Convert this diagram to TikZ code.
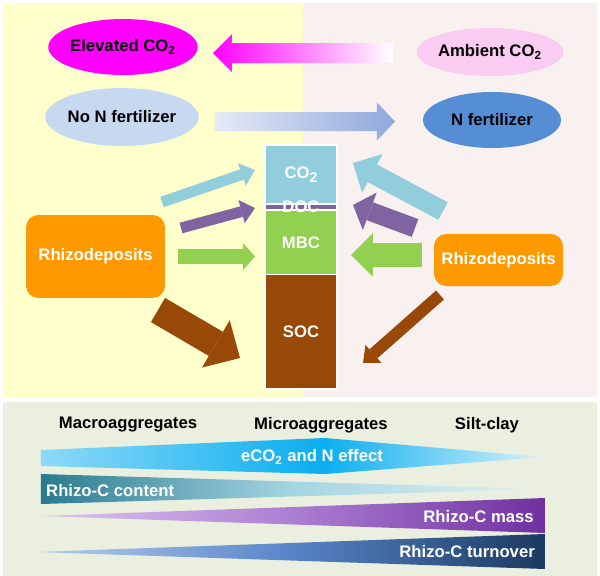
\documentclass[tikz,border=0pt]{standalone}
\usepackage{fontspec}
\setmainfont{Liberation Sans}
\usetikzlibrary{shapes.geometric,arrows.meta}

\definecolor{bgyellow}{HTML}{FFFFCC}
\definecolor{bgpink}{HTML}{F9F0F0}
\definecolor{bggreen}{HTML}{EBEFDF}
\definecolor{elevcol}{HTML}{FF00FF}
\definecolor{ambcol}{HTML}{FACCF2}
\definecolor{nonfcol}{HTML}{C6D9F1}
\definecolor{nfcol}{HTML}{558ED5}
\definecolor{rhizocol}{HTML}{FF9900}
\definecolor{co2col}{HTML}{92CDDC}
\definecolor{doccol}{HTML}{8064A2}
\definecolor{mbccol}{HTML}{92D050}
\definecolor{soccol}{HTML}{984807}
\definecolor{nfarrL}{HTML}{E6EAF6}
\definecolor{nfarrR}{HTML}{8FA8DC}
\definecolor{effL}{HTML}{8DD9F8}
\definecolor{effM}{HTML}{0AAEEF}
\definecolor{effR}{HTML}{D6F2FD}
\definecolor{cntL}{HTML}{2B7B8F}
\definecolor{cntM}{HTML}{A4D5E3}
\definecolor{cntR}{HTML}{E2F1F3}
\definecolor{masL}{HTML}{DCC6EF}
\definecolor{masM}{HTML}{AC7ED3}
\definecolor{masR}{HTML}{7030A0}
\definecolor{turL}{HTML}{B5CEF0}
\definecolor{turM}{HTML}{5884C8}
\definecolor{turR}{HTML}{1B3A62}

\pgfdeclarehorizontalshading{effectshade}{100bp}{color(0bp)=(effL); color(25bp)=(effL); color(53bp)=(effM); color(75bp)=(effR); color(100bp)=(effR)}

\tikzset{
  every node/.style={font=\bfseries\fontsize{9.5}{11}\selectfont},
  treat/.style={ellipse, inner sep=0pt, minimum width=2.76cm, minimum height=1.08cm},
  rhizo/.style={rectangle, rounded corners=7pt, fill=rhizocol, text=white, inner sep=0pt},
  pool/.style={rectangle, draw=white, line width=1pt, minimum width=1.44cm, inner sep=0pt, text=white},
  flow/.style n args={4}{draw=#1, line width=#2, -{Triangle[width=#3, length=#4, line width=0pt]}},
}

\begin{document}
\begin{tikzpicture}[x=0.02cm, y=-0.02cm]
  \useasboundingbox (0,0) rectangle (600,576);
  % panels
  \fill[bgyellow] (3,3) rectangle (303,397);
  \fill[bgpink] (303,3) rectangle (597,397);
  \fill[bggreen] (3,402) rectangle (597,576);

  % treatments
  \node[treat, fill=elevcol, minimum height=1.12cm] (elev) at (123,47) {Elevated CO\textsubscript{2}};
  \node[treat, fill=ambcol, minimum height=0.96cm] (amb) at (490,52) {Ambient CO\textsubscript{2}};
  \node[treat, fill=nonfcol, minimum height=1.16cm] (noN) at (122,117) {No N fertilizer};
  \node[treat, fill=nfcol, minimum height=1.12cm] (Nfert) at (492,120) {N fertilizer};

  \coordinate (elevtip) at (213,53);
  \coordinate (nftip) at (395,121.5);
  \shade[left color=elevcol, right color=white]
    (elevtip) -- ++(19,-19) -- ++(0,9) -- ++(161,0) -- ++(0,20) -- ++(-161,0) -- ++(0,9) -- cycle;
  \shade[left color=nfarrL, right color=nfarrR]
    (nftip) -- ++(-18,-19) -- ++(0,9.5) -- ++(-162,0) -- ++(0,19) -- ++(162,0) -- ++(0,9.5) -- cycle;

  % rhizodeposits
  \node[rhizo, minimum width=2.78cm, minimum height=1.66cm] (rhizoL) at (95.5,256.5) {Rhizodeposits};
  \node[rhizo, minimum width=2.58cm, minimum height=1.04cm] (rhizoR) at (498.5,260) {Rhizodeposits};

  % carbon pools
  \node[pool, fill=co2col, minimum height=1.18cm] (co2) at (301,174.5) {CO\raisebox{-0.45ex}{\fontsize{8}{8}\selectfont 2}};
  \node[pool, fill=doccol, minimum height=0.12cm] (doc) at (301,207) {};
  \node[pool, fill=mbccol, minimum height=1.29cm] (mbc) at (301,242.25) {MBC};
  \node[pool, fill=soccol, minimum height=2.29cm] (soc) at (301,331.75) {SOC};
  \node[text=white] (doclbl) at (doc) {DOC};

  % flows from the left
  \coordinate (l1) at (162,202);  \coordinate (l1to) at (255,170);
  \coordinate (l2) at (181,228);  \coordinate (l2to) at (255,208);
  \coordinate (l3) at (178,256.5);\coordinate (l3to) at (255,256.5);
  \coordinate (l4) at (158,310);  \coordinate (l4to) at (240,358);
  \draw[flow={co2col}{6.2pt}{13.6pt}{7.9pt}] (l1) -- (l1to);
  \draw[flow={doccol}{6.2pt}{13.6pt}{7.9pt}] (l2) -- (l2to);
  \draw[flow={mbccol}{8.5pt}{15.3pt}{6.8pt}] (l3) -- (l3to);
  \draw[flow={soccol}{15.9pt}{31.2pt}{15.9pt}] (l4) -- (l4to);

  % flows from the right
  \coordinate (r1) at (443,211);  \coordinate (r1to) at (353,163);
  \coordinate (r2) at (415,228);  \coordinate (r2to) at (353,205);
  \coordinate (r3) at (422,255);  \coordinate (r3to) at (351,255);
  \coordinate (r4) at (440,295);  \coordinate (r4to) at (363,363);
  \draw[flow={co2col}{11.3pt}{24.9pt}{12.5pt}] (r1) -- (r1to);
  \draw[flow={doccol}{10.8pt}{22.7pt}{10.2pt}] (r2) -- (r2to);
  \draw[flow={mbccol}{13.6pt}{24.9pt}{12.5pt}] (r3) -- (r3to);
  \draw[flow={soccol}{6.8pt}{13.6pt}{7.9pt}] (r4) -- (r4to);

  % aggregate fractions
  \node (macro) at (128,425) {Macroaggregates};
  \node (micro) at (321,425) {Microaggregates};
  \node (silt) at (487,425) {Silt-clay};

  \shade[shading=effectshade] (41,450) -- (325,438) -- (543,457) -- (325,474) -- (41,466) -- cycle;
  \shade[left color=cntL, right color=cntR, middle color=cntM] (41,474) -- (543,489) -- (41,504) -- cycle;
  \shade[left color=masL, right color=masR, middle color=masM] (41,516) -- (545,498) -- (545,533) -- cycle;
  \shade[left color=turL, right color=turR, middle color=turM] (36,552) -- (545,534) -- (545,569) -- cycle;

  \node[text=white] (effect) at (312,457) {eCO\textsubscript{2} and N effect};
  \node[text=white, anchor=west] (content) at (40,491) {Rhizo-C content};
  \node[text=white, anchor=east] (mass) at (540,517) {Rhizo-C mass};
  \node[text=white, anchor=east] (turnover) at (541,552) {Rhizo-C turnover};
\end{tikzpicture}
\end{document}
